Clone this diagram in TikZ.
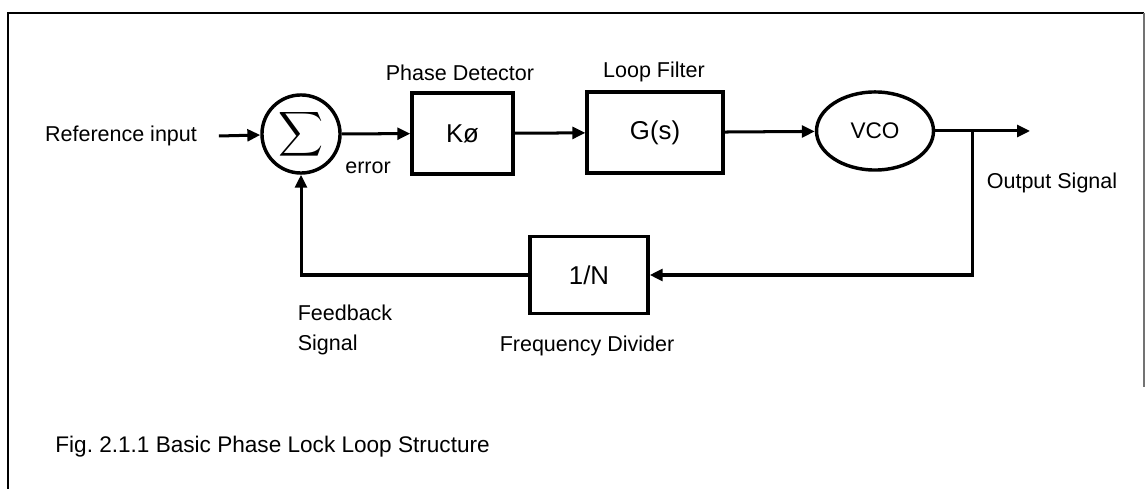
\documentclass[tikz,border=0pt]{standalone}
\usepackage{fontspec}
\setmainfont{Liberation Sans}
\usetikzlibrary{arrows.meta,shapes.geometric}

\tikzstyle{block} = [rectangle, draw, line width=1.6pt, inner sep=0mm, minimum width=47pt, minimum height=37.7pt, font=\fontsize{12}{14}\selectfont]
\tikzstyle{lbl} = [inner sep=0mm, font=\fontsize{10}{12}\selectfont]
\tikzstyle{sig} = [line width=1.4pt, -{Triangle[length=6pt,width=5.5pt]}]

\begin{document}
\frenchspacing
\begin{tikzpicture}[x=0.465pt, y=-0.465pt]
		\useasboundingbox (0,0) rectangle (1146,489);
		% frame
		\draw[line width=0.9pt] (8,489) -- (8,13) -- (1144,13);
		\draw[line width=0.5pt, black!55] (1144,13) -- (1144,387);
		% forward path
		\node[circle, draw, line width=1.6pt, minimum size=36.3pt, inner sep=0mm] (sum) at (301,134) {\scalebox{1.45}{$\displaystyle\sum$}};
		\node[lbl] (ref) at (121,136) {Reference input};
		\node[lbl] (err) at (368,168) {error};
		\node[block] (pd) at (462.5,133.5) {K\o};
		\node[block, minimum width=63.2pt] (lf) at (655,132.5) {G(s)};
		\node[ellipse, draw, line width=1.6pt, minimum width=54.4pt, minimum height=36.3pt, inner sep=0mm, font=\fontsize{10.5}{12}\selectfont] (vco) at (875,131) {VCO};
		\coordinate (tap) at (972,131);
		\coordinate (out) at (1030,131);
		\foreach \n/\l/\x/\y in {pdl/Phase Detector/460/73, lfl/Loop Filter/654/72, outl/Output Signal/1052/183, divl/Frequency Divider/587/346}
			\node[lbl] (\n) at (\x,\y) {\l};
		% feedback path
		\node[block, minimum width=54.9pt, minimum height=35.8pt] (div) at (589,275) {1/N};
		\node[lbl, align=left] (fbl) at (345,330) {Feedback\\[2pt]Signal};
		\node[lbl, anchor=west, font=\fontsize{10.5}{12}\selectfont] (cap) at (55,447) {Fig. 2.1.1 Basic Phase Lock Loop Structure};
		% connectors
		\draw[sig] ([xshift=10pt]ref.east) -- (sum);
		\foreach \a/\b in {sum/pd, pd/lf, lf/vco, vco/out}
			\draw[sig] (\a) -- (\b);
		\draw[sig] (tap) |- (div);
		\draw[sig] (div.west) -| (sum.south);
	\end{tikzpicture}
\end{document}
